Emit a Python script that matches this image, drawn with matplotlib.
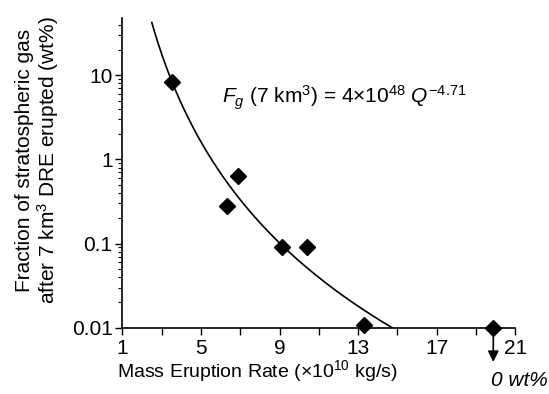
import numpy as np
import matplotlib
matplotlib.use("Agg")
import matplotlib.pyplot as plt
from matplotlib.ticker import FixedLocator, LogLocator, NullFormatter, FixedFormatter
from matplotlib.transforms import ScaledTranslation

plt.rcParams['font.family'] = ['Liberation Sans', 'DejaVu Sans']
plt.rcParams['mathtext.fontset'] = 'custom'
plt.rcParams['mathtext.rm'] = 'Liberation Sans'
plt.rcParams['mathtext.it'] = 'Liberation Sans:italic'

# Data
mer = [3.54, 6.9, 6.34, 9.14, 10.38, 13.3]          # x10^10 kg/s
fraction = [8.3, 0.63, 0.283, 0.0906, 0.0906, 0.0107]  # wt%
zero_mer = [19.88]                                     # eruption with 0 wt%
zero_frac = [0.01]

# Fit shown on the chart: F_g = 4e48 Q^-4.71 (fraction), plotted in wt%
fit_coef = 4e48
fit_exp = -4.71

x_ticks = [1, 5, 9, 13, 17, 21]
x_minor = [3, 7, 11, 15, 19]
y_ticks = [0.01, 0.1, 1, 10]
y_labels = ['0.01', '0.1', '1', '10']

fig = plt.figure(figsize=(5.49, 3.94), dpi=100)
ax = fig.add_axes([0.2228, 0.1683, 0.7158, 0.786])

xc = np.linspace(2.5, 14.75, 300)
yc = 100 * fit_coef * (xc * 1e10) ** fit_exp
ax.plot(xc, yc, color='black', lw=1.2)

ax.plot(mer, fraction, 'D', color='black', ms=7.8, clip_on=False, zorder=5)
ax.plot(zero_mer, zero_frac, 'D', color='black', ms=7.8, clip_on=False, zorder=5)

ax.set_yscale('log')
ax.set_xlim(1, 21)
ax.set_ylim(0.01, 48)

ax.xaxis.set_major_locator(FixedLocator(x_ticks))
ax.xaxis.set_minor_locator(FixedLocator(x_minor))
ax.yaxis.set_major_locator(FixedLocator(y_ticks))
ax.yaxis.set_major_formatter(FixedFormatter(y_labels))
ax.yaxis.set_minor_locator(LogLocator(base=10, subs=np.arange(2, 10)))
ax.yaxis.set_minor_formatter(NullFormatter())

for s in ['top', 'right']:
    ax.spines[s].set_visible(False)
for s in ['left', 'bottom']:
    ax.spines[s].set_linewidth(1.2)

ax.tick_params(axis='both', which='major', labelsize=15, width=1.0, length=5, color='black')
ax.tick_params(axis='x', which='minor', width=1.0, length=5)
ax.tick_params(axis='y', which='minor', width=0.8, length=3)
ax.tick_params(axis='x', pad=3)
ax.tick_params(axis='y', pad=2)

ax.set_xlabel('Mass Eruption Rate (×10$^{10}$ kg/s)', fontsize=14)
ax.xaxis.set_label_coords(0.344, -0.098)
ax.set_ylabel('Fraction of stratospheric gas\nafter 7 km$^3$ DRE erupted (wt%)', fontsize=15, linespacing=1.1)
ax.yaxis.set_label_coords(-0.155, 0.54)

ax.text(0.254, 0.742, r'$\mathit{F}_{\mathit{g}}$ (7 km$^{3}$) = 4×10$^{48}$ $\mathit{Q}^{-4.71}$',
        transform=ax.transAxes, fontsize=15, ha='left', va='center')

# Arrow below the 0 wt% point
head = ax.transData + ScaledTranslation(0, -0.37, fig.dpi_scale_trans)
tail = ax.transData + ScaledTranslation(0, -0.04, fig.dpi_scale_trans)
ax.annotate('', xy=(zero_mer[0], zero_frac[0]), xycoords=head,
            xytext=(zero_mer[0], zero_frac[0]), textcoords=tail,
            arrowprops=dict(arrowstyle='-|>', color='black', lw=1.2, mutation_scale=16),
            annotation_clip=False)
ax.text(zero_mer[0], zero_frac[0], '0 wt%', transform=ax.transData + ScaledTranslation(0.26, -0.53, fig.dpi_scale_trans),
        fontsize=15, style='italic', ha='center', va='center')

fig.savefig('out.png', dpi=100)
